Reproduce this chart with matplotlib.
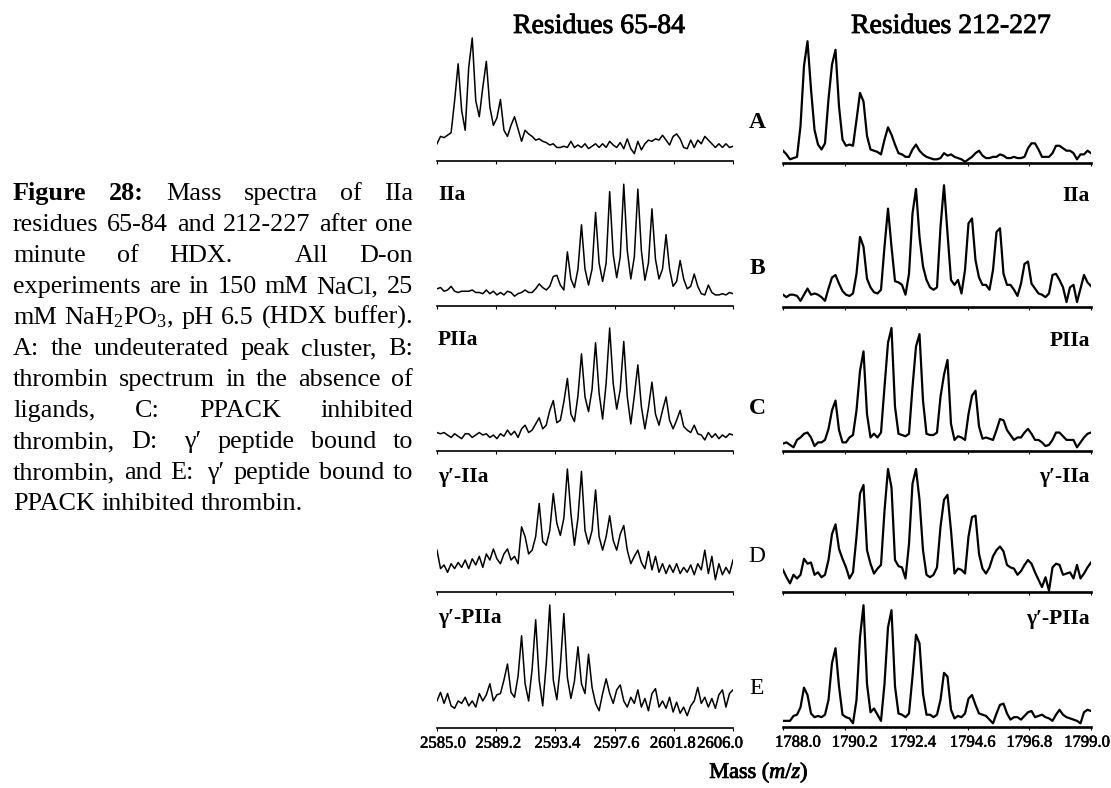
import numpy as np
import matplotlib
matplotlib.use('Agg')
import matplotlib.pyplot as plt
import matplotlib.patheffects as pe
from matplotlib.transforms import ScaledTranslation

plt.rcParams['font.family'] = ['Liberation Serif', 'DejaVu Serif']
plt.rcParams['mathtext.fontset'] = 'custom'
plt.rcParams['mathtext.rm'] = 'Liberation Serif'
plt.rcParams['mathtext.it'] = 'Liberation Serif:italic'
plt.rcParams['mathtext.bf'] = 'Liberation Serif:bold'

# ---------------------------------------------------------------------------
# Data: relative intensity (% of tallest peak), evenly sampled over the m/z range
# ---------------------------------------------------------------------------
mz_65_84 = (2585.0, 2606.0)      # 0.25 Da steps -> 85 points
mz_212_227 = (1788.0, 1799.0)    # 0.125 Da steps -> 89 points

ticks_65_84 = [2585.0, 2589.2, 2593.4, 2597.6, 2601.8, 2606.0]
ticks_212_227 = [1788.0, 1790.2, 1792.4, 1794.6, 1796.8, 1799.0]

titles = ['Residues 65-84', 'Residues 212-227']
panel_letters = ['A', 'B', 'C', 'D', 'E']
sample_names = ['', 'IIa', 'PIIa', 'γ′-IIa', 'γ′-PIIa']

res65_A = [14, 20, 19, 21, 23, 49, 79, 41, 25, 76, 100, 49, 36, 60, 81, 44, 29, 35, 50, 25,
           20, 29, 36, 26, 16, 25, 22, 20, 17, 18, 16, 15, 13, 14, 11, 11, 12, 11, 16, 11,
           13, 11, 14, 10, 12, 14, 11, 14, 11, 16, 13, 11, 15, 10, 18, 10, 6, 16, 9, 14,
           17, 16, 18, 17, 21, 17, 13, 20, 22, 18, 11, 10, 17, 11, 17, 14, 20, 17, 14, 11,
           14, 11, 14, 11, 12]
res65_B = [14, 15, 12, 13, 16, 12, 11, 12, 12, 12, 13, 11, 11, 10, 13, 10, 12, 9, 11, 9,
           12, 11, 8, 10, 11, 13, 11, 11, 14, 18, 15, 13, 16, 24, 25, 17,
           13, 44, 22, 15, 30, 66, 30, 17, 30, 76, 35, 20, 35, 93, 42, 23, 40, 99, 45, 22,
           40, 95, 45, 21, 35, 79, 38, 22, 30, 58, 30, 16, 20, 37, 22, 14, 16, 26, 16, 10,
           9, 17, 11, 9, 9, 10, 9, 11, 10]
res65_C = [15, 14, 15, 13, 11, 14, 12, 10, 14, 14, 11, 13, 15, 13, 14, 11, 13, 10, 14, 12,
           17, 13, 16, 11, 18, 21, 15, 17, 22, 27, 18, 21, 33, 41, 23, 25, 40, 59, 30, 24,
           45, 79, 44, 32, 50, 88, 47, 26, 55, 100, 55, 34, 50, 89, 44, 22, 45, 70, 36, 18,
           35, 56, 30, 21, 33, 44, 25, 18, 25, 33, 20, 17, 15, 21, 14, 13, 9, 15, 11, 14,
           10, 13, 11, 14, 13]
res65_D = [34, 19, 22, 16, 23, 19, 24, 20, 26, 19, 27, 22, 29, 20, 31, 26, 35, 27, 23, 31,
           35, 26, 29, 23, 53, 45, 31, 34, 45, 72, 41, 38, 50, 80, 56, 46, 60, 100, 64, 38,
           60, 98, 50, 39, 50, 83, 45, 34, 45, 62, 42, 34, 47, 54, 34, 23, 29, 34, 24, 19,
           33, 18, 29, 16, 23, 15, 22, 16, 23, 15, 20, 16, 22, 14, 23, 18, 34, 15, 29, 10,
           23, 14, 20, 15, 26]
res65_E = [22, 29, 20, 28, 18, 16, 22, 20, 25, 18, 22, 17, 28, 22, 27, 36, 22, 27, 28, 39,
           52, 29, 25, 42, 75, 36, 22, 48, 88, 39, 18, 52, 100, 39, 23, 50, 93, 41, 24, 38,
           66, 36, 28, 60, 33, 20, 14, 28, 40, 28, 20, 31, 35, 22, 17, 25, 20, 31, 17, 24,
           14, 28, 32, 17, 22, 16, 25, 13, 21, 12, 17, 10, 18, 22, 33, 20, 25, 17, 24, 16,
           27, 31, 17, 28, 31]

res212_A = [10, 7, 3, 4, 5, 30, 79, 99, 60, 27, 15, 11, 16, 52, 80, 92, 46, 19, 14, 15,
            14, 35, 57, 50, 22, 11, 10, 9, 7, 19, 29, 23, 15, 8, 7, 5, 5, 11, 15, 10,
            7, 5, 4, 3, 3, 4, 8, 6, 7, 5, 4, 3, 1, 3, 5, 8, 10, 6, 4, 4,
            5, 5, 7, 6, 4, 4, 5, 4, 4, 5, 12, 16, 16, 11, 5, 5, 5, 8, 14, 14,
            12, 10, 10, 8, 3, 7, 7, 10, 8]
res212_B = [10, 8, 10, 10, 9, 5, 10, 15, 10, 11, 10, 8, 5, 15, 24, 26, 19, 13, 10, 9,
            11, 27, 57, 49, 23, 16, 12, 11, 14, 49, 80, 49, 21, 20, 18, 10, 27, 76, 96, 57,
            33, 22, 16, 14, 16, 65, 99, 60, 22, 18, 22, 11, 30, 68, 72, 38, 24, 18, 18, 14,
            30, 61, 64, 27, 18, 18, 14, 9, 19, 35, 37, 19, 15, 11, 10, 8, 11, 26, 27, 22,
            16, 4, 16, 18, 4, 15, 26, 20, 17]
res212_C = [6, 7, 5, 3, 9, 11, 14, 15, 11, 4, 7, 7, 9, 18, 33, 41, 17, 7, 7, 11,
            13, 33, 65, 81, 30, 11, 14, 11, 15, 52, 88, 100, 36, 14, 13, 12, 14, 52, 85, 95,
            41, 14, 13, 13, 15, 44, 62, 74, 22, 9, 12, 11, 9, 30, 45, 49, 20, 10, 11, 10,
            9, 17, 26, 25, 17, 13, 9, 11, 11, 15, 18, 14, 9, 9, 7, 4, 5, 9, 15, 15,
            12, 9, 9, 9, 3, 7, 11, 14, 15]
res212_D = [18, 12, 7, 14, 11, 14, 27, 23, 24, 14, 16, 12, 14, 26, 47, 55, 35, 27, 20, 11,
            16, 45, 80, 87, 34, 23, 15, 19, 22, 66, 100, 85, 26, 21, 20, 11, 39, 88, 100, 75,
            34, 14, 12, 14, 20, 53, 75, 79, 50, 15, 19, 18, 15, 45, 61, 62, 31, 19, 15, 20,
            29, 34, 37, 33, 22, 20, 19, 14, 17, 22, 26, 23, 16, 10, 4, 12, 1, 20, 23, 22,
            14, 15, 16, 11, 22, 11, 15, 20, 24]
res212_E = [5, 5, 5, 9, 10, 16, 32, 26, 11, 8, 9, 8, 10, 22, 52, 64, 33, 10, 8, 7,
            3, 22, 73, 99, 35, 12, 15, 10, 5, 35, 81, 95, 33, 11, 10, 8, 11, 41, 75, 68,
            27, 10, 10, 8, 10, 22, 44, 41, 14, 7, 9, 8, 11, 23, 26, 18, 11, 10, 9, 6,
            3, 11, 18, 19, 11, 6, 8, 8, 6, 9, 12, 13, 8, 9, 10, 8, 7, 5, 10, 14,
            10, 8, 7, 6, 5, 3, 12, 14, 13]

spectra_65_84 = [res65_A, res65_B, res65_C, res65_D, res65_E]
spectra_212_227 = [res212_A, res212_B, res212_C, res212_D, res212_E]

caption_lines = [
    "Figure 28: Mass spectra of IIa",
    "residues 65-84 and 212-227 after one",
    "minute of HDX. All D-on",
    "experiments are in 150 mM NaCl, 25",
    "mM NaH$_2$PO$_3$, pH 6.5 (HDX buffer).",
    "A: the undeuterated peak cluster, B:",
    "thrombin spectrum in the absence of",
    "ligands, C: PPACK inhibited",
    "thrombin, D: γ′ peptide bound to",
    "thrombin, and E: γ′ peptide bound to",
    "PPACK inhibited thrombin.",
]
bold_words = {"Figure", "28:"}

# ---------------------------------------------------------------------------
# Layout (pixels of the 1111 x 788 page)
# ---------------------------------------------------------------------------
W, H = 1111, 788
fig = plt.figure(figsize=(W / 100, H / 100), dpi=100)

# the figure part is a scanned bitmap: its text looks a bit heavier
heavy = [pe.withStroke(linewidth=0.6, foreground='black')]


def fx(px):
    return px / W


def fy(py):
    return 1 - py / H


AX_H = 130
Y_TOP = 100 * AX_H / 123

left_x = (437, 733)
right_x = (783, 1091)
left_base = [161, 306, 451, 592, 728]
right_base = [163, 307, 451, 592, 727]
left_label_dx = [6, 2, 2, 2, -1, -13]
right_label_dx = [15, 10, 7, 5, 0, -4]


def draw_panel(xr, base, mz_range, inten, lw_line, lw_base, ticks, show_labels, label_dx):
    ax = fig.add_axes([fx(xr[0]), fy(base), fx(xr[1]) - fx(xr[0]), AX_H / H])
    mz = np.linspace(mz_range[0], mz_range[1], len(inten))
    ax.plot(mz, inten, color='black', lw=lw_line, solid_joinstyle='round')
    ax.set_xlim(*mz_range)
    ax.set_ylim(0, Y_TOP)
    for s in ['top', 'left', 'right']:
        ax.spines[s].set_visible(False)
    ax.spines['bottom'].set_linewidth(lw_base)
    ax.set_yticks([])
    ax.set_xticks(ticks)
    ax.tick_params(axis='x', direction='out', length=2.5, width=0.8, pad=3, labelsize=12)
    if show_labels:
        ax.set_xticklabels([f'{t:.1f}' for t in ticks])
        for lab, dx in zip(ax.get_xticklabels(), label_dx):
            lab.set_transform(lab.get_transform() +
                              ScaledTranslation(dx / 100, 0, fig.dpi_scale_trans))
            lab.set_path_effects([pe.withStroke(linewidth=0.4, foreground='black')])
    else:
        ax.set_xticklabels([])
    ax.patch.set_visible(False)
    return ax


for k in range(5):
    last = k == 4
    draw_panel(left_x, left_base[k], mz_65_84, spectra_65_84[k], 1.1, 1.2,
               ticks_65_84, last, left_label_dx)
    draw_panel(right_x, right_base[k], mz_212_227, spectra_212_227[k], 1.6, 1.9,
               ticks_212_227, last, right_label_dx)

# column titles
fig.text(fx(599), fy(33), titles[0], ha='center', va='baseline', fontsize=20,
         path_effects=heavy)
fig.text(fx(951), fy(33), titles[1], ha='center', va='baseline', fontsize=20,
         path_effects=heavy)

# panel letters between the columns
letter_y = [122, 268, 408, 557, 689]
letter_w = ['bold', 'bold', 'bold', 'normal', 'normal']
for let, y, wt in zip(panel_letters, letter_y, letter_w):
    fig.text(fx(757), fy(y), let, ha='center', va='center', fontsize=17, weight=wt)

# sample names
left_name_y = [195, 340, 477, 618]
right_name_y = [196, 341, 477, 619]
for name, yl, yr in zip(sample_names[1:], left_name_y, right_name_y):
    fig.text(fx(438), fy(yl), name, ha='left', va='center', fontsize=15.5, weight='bold')
    fig.text(fx(1090), fy(yr), name, ha='right', va='center', fontsize=15.5, weight='bold')

# x axis title
fig.text(fx(759), fy(773), 'Mass ($m/z$)', ha='center', va='center', fontsize=16,
         path_effects=heavy)

# ---------------------------------------------------------------------------
# Justified caption
# ---------------------------------------------------------------------------
CAP_L, CAP_R = 13, 413
CAP_SIZE = 18.8
renderer = fig.canvas.get_renderer()

for n, line in enumerate(caption_lines):
    y = fy(200 + 31 * n)
    words = line.split(' ')
    texts = []
    for w in words:
        t = fig.text(0, y, w, fontsize=CAP_SIZE, va='baseline',
                     weight='bold' if w in bold_words else 'normal')
        texts.append(t)
    widths = [t.get_window_extent(renderer).width for t in texts]
    weights = []
    for i in range(len(words) - 1):
        wgt = 1.0
        if words[i].endswith('.'):
            wgt = 2.0
        if words[i].endswith(':') and words[i + 1].startswith('γ'):
            wgt = 1.6
        weights.append(wgt)
    if n == len(caption_lines) - 1:
        unit = CAP_SIZE * 0.25 * 100 / 72
    else:
        unit = (CAP_R - CAP_L - sum(widths)) / sum(weights)
    x = CAP_L
    for i, (t, w) in enumerate(zip(texts, widths)):
        t.set_x(fx(x))
        if i < len(weights):
            x += w + unit * weights[i]

fig.savefig('out.png', dpi=100)
